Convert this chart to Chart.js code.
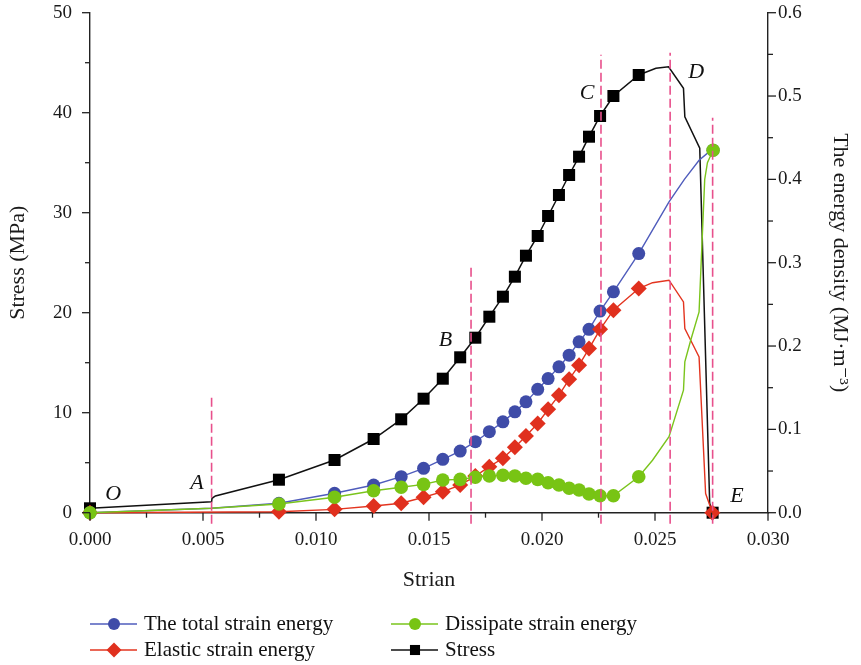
<!DOCTYPE html>
<html>
<head>
<meta charset="utf-8">
<script src="https://cdn.jsdelivr.net/npm/chart.js@4/dist/chart.umd.min.js"></script>
<style>
  body { margin: 0; background: #fff; }
  canvas { display: block; }
</style>
</head>
<body>
<canvas id="grafico" width="861" height="665"></canvas>
<script>
// pontos com marcador (mesma deformação para todas as séries)
const strainPts = [0, 0.00836, 0.01082, 0.01255, 0.01377, 0.01476, 0.01561, 0.01638, 0.01705, 0.01767, 0.01827,
    0.0188, 0.01929, 0.01981, 0.02027, 0.02075, 0.0212, 0.02164, 0.02208, 0.02257, 0.02316, 0.02428]

const stressPts = [0.44, 3.3, 5.27, 7.37, 9.34, 11.4, 13.4, 15.54, 17.5, 19.6, 21.6,
    23.6, 25.7, 27.67, 29.67, 31.77, 33.77, 35.6, 37.6, 39.67, 41.67, 43.77]
const totalPts = [0, 0.0113, 0.0233, 0.0332, 0.0432, 0.0533, 0.064, 0.074, 0.0852, 0.0972, 0.109,
    0.121, 0.133, 0.148, 0.161, 0.175, 0.189, 0.205, 0.22, 0.242, 0.265, 0.311]
const elasticPts = [0, 0.0012, 0.004, 0.008, 0.0113, 0.0185, 0.0252, 0.0332, 0.044, 0.0552, 0.0653,
    0.0785, 0.092, 0.107, 0.124, 0.141, 0.16, 0.177, 0.197, 0.22, 0.243, 0.269]
const dissipPts = [0, 0.0104, 0.0185, 0.0264, 0.0305, 0.034, 0.0392, 0.04, 0.0425, 0.044, 0.0449,
    0.044, 0.0413, 0.04, 0.036, 0.0332, 0.0293, 0.0272, 0.0224, 0.0204, 0.0204, 0.0432]

// trechos da linha sem marcador
const stressExtraX = [0.00538, 0.0054, 0.00555, 0.02504, 0.0256, 0.02626, 0.02632, 0.02698, 0.02742]
const stressExtraY = [1.1, 1.44, 1.67, 44.44, 44.6, 42.44, 39.6, 36.44, 0.94]
const totalExtraX = [0.00538, 0.02562, 0.0263, 0.02695, 0.02735]
const totalExtraY = [0.0053, 0.373, 0.4, 0.423, 0.432]
const elasticExtraX = [0.02489, 0.02562, 0.02626, 0.02632, 0.02658, 0.02695, 0.02724]
const elasticExtraY = [0.276, 0.279, 0.253, 0.221, 0.207, 0.187, 0.023]
const dissipExtraX = [0.00538, 0.02489, 0.02562, 0.02626, 0.02632, 0.02658, 0.02695, 0.0272, 0.02732]
const dissipExtraY = [0.0053, 0.063, 0.0912, 0.147, 0.181, 0.207, 0.241, 0.4, 0.42]

// ponto final (E), com marcador
const stressEnd = [0.02755, 0]
const totalEnd = [0.02757, 0.435]
const elasticEnd = [0.02754, 0]
const dissipEnd = [0.02757, 0.435]

// linhas tracejadas O-A-B-C-D-E
const guideX = [0.00538, 0.01686, 0.02261, 0.02567, 0.02755]
const guideTop = [11.6, 24.5, 45.8, 46, 39.5]
const guideBottom = -1.1

const labelNames = ['O', 'A', 'B', 'C', 'D', 'E']
const labelX = [0.00103, 0.00473, 0.01573, 0.022, 0.02682, 0.02863]
const labelY = [1.87, 2.97, 17.27, 41.97, 44.07, 1.67]

const serif = '"Liberation Serif", "DejaVu Serif", serif'

function montar(xs, ys, ex, ey, fim) {
    var pts = []
    xs.forEach((v, i) => pts.push({ x: v, y: ys[i], m: true }))
    ex.forEach((v, i) => pts.push({ x: v, y: ey[i], m: false }))
    pts.push({ x: fim[0], y: fim[1], m: true })
    pts.sort((a, b) => a.x - b.x)
    return pts
}

function raio(r) {
    return ctx => (ctx.raw && ctx.raw.m ? r : 0)
}

var datasets = []

guideX.forEach((gx, i) => {
    datasets.push({
        label: 'guia' + i,
        data: [{ x: gx, y: guideBottom }, { x: gx, y: guideTop[i] }],
        yAxisID: 'y',
        borderColor: '#e8508c',
        borderWidth: 1.6,
        borderDash: [9, 4],
        pointRadius: 0,
        clip: false
    })
})

datasets.push({
    label: 'Dissipate strain energy',
    data: montar(strainPts, dissipPts, dissipExtraX, dissipExtraY, dissipEnd),
    yAxisID: 'y2',
    borderColor: '#7ac41c',
    backgroundColor: '#78c414',
    borderWidth: 1.4,
    pointStyle: 'circle',
    pointRadius: raio(6.8),
    pointBorderWidth: 0,
    clip: false
})
datasets.push({
    label: 'Elastic strain energy',
    data: montar(strainPts, elasticPts, elasticExtraX, elasticExtraY, elasticEnd),
    yAxisID: 'y2',
    borderColor: '#e3341f',
    backgroundColor: '#e0301e',
    borderWidth: 1.4,
    pointStyle: 'rectRot',
    pointRadius: raio(8),
    pointBorderWidth: 0,
    clip: false
})
datasets.push({
    label: 'The total strain energy',
    data: montar(strainPts, totalPts, totalExtraX, totalExtraY, totalEnd),
    yAxisID: 'y2',
    borderColor: '#4f5cbc',
    backgroundColor: '#3f4ca8',
    borderWidth: 1.4,
    pointStyle: 'circle',
    pointRadius: raio(6.5),
    pointBorderWidth: 0,
    clip: false
})
datasets.push({
    label: 'Stress',
    data: montar(strainPts, stressPts, stressExtraX, stressExtraY, stressEnd),
    yAxisID: 'y',
    borderColor: '#111',
    backgroundColor: '#000',
    borderWidth: 1.5,
    pointStyle: 'rect',
    pointRadius: raio(8.5),
    pointBorderWidth: 0,
    clip: false
})

const extras = {
    id: 'extras',
    afterDraw(chart) {
        const ctx = chart.ctx
        const sx = chart.scales.x, sy = chart.scales.y, sy2 = chart.scales.y2
        const a = chart.chartArea
        ctx.save()
        ctx.strokeStyle = '#222'
        ctx.lineWidth = 1.3
        function traco(x1, y1, x2, y2) {
            ctx.beginPath(); ctx.moveTo(x1, y1); ctx.lineTo(x2, y2); ctx.stroke()
        }
        // marcas dos eixos (principais e secundárias)
        for (let i = 0; i <= 12; i++) {
            const px = sx.getPixelForValue(i * 0.0025)
            traco(px, a.bottom, px, a.bottom + (i % 2 ? 5 : 8))
        }
        for (let i = 0; i <= 10; i++) {
            const py = sy.getPixelForValue(i * 5)
            traco(a.left, py, a.left - (i % 2 ? 5 : 8), py)
        }
        for (let i = 0; i <= 12; i++) {
            const py = sy2.getPixelForValue(i * 0.05)
            traco(a.right, py, a.right + (i % 2 ? 5 : 8), py)
        }

        // letras O A B C D E
        ctx.fillStyle = '#111'
        ctx.font = 'italic 22px ' + serif
        ctx.textAlign = 'center'
        ctx.textBaseline = 'middle'
        labelNames.forEach((t, i) => {
            ctx.fillText(t, sx.getPixelForValue(labelX[i]), sy.getPixelForValue(labelY[i]))
        })

        // legenda
        const ordem = ['The total strain energy', 'Elastic strain energy', 'Dissipate strain energy', 'Stress']
        const colX = [90, 391]
        const rowY = [624, 650]
        ctx.font = '21px ' + serif
        ctx.textAlign = 'left'
        ordem.forEach((nome, k) => {
            const ds = chart.data.datasets.find(d => d.label === nome)
            const x0 = colX[Math.floor(k / 2)]
            const y0 = rowY[k % 2]
            ctx.strokeStyle = ds.borderColor
            ctx.lineWidth = 1.6
            traco(x0, y0, x0 + 47, y0)
            const r = ds.pointStyle === 'rect' ? 7 : (ds.pointStyle === 'rectRot' ? 7.5 : 6)
            ctx.fillStyle = ds.backgroundColor
            ctx.beginPath()
            if (ds.pointStyle === 'circle') ctx.arc(x0 + 24, y0, r, 0, Math.PI * 2)
            else if (ds.pointStyle === 'rect') ctx.rect(x0 + 24 - r * 0.72, y0 - r * 0.72, r * 1.44, r * 1.44)
            else { ctx.moveTo(x0 + 24, y0 - r); ctx.lineTo(x0 + 24 + r, y0); ctx.lineTo(x0 + 24, y0 + r); ctx.lineTo(x0 + 24 - r, y0) }
            ctx.closePath()
            ctx.fill()
            ctx.fillStyle = '#111'
            ctx.fillText(nome, x0 + 54, y0)
        })
        ctx.restore()
    }
}

const fonteTick = { family: serif, size: 19 }
const fonteTitulo = { family: serif, size: 22 }

function fixarVertical(largura) {
    return s => {
        s.width = largura
        s.paddingTop = 0
        s.paddingBottom = 0
    }
}

new Chart(document.getElementById('grafico'), {
    type: 'line',
    data: { datasets: datasets },
    plugins: [extras],
    options: {
        responsive: false,
        animation: false,
        devicePixelRatio: 1,
        layout: { padding: { top: 12.7, left: 0, right: 0, bottom: 0 } },
        plugins: { legend: { display: false }, tooltip: { enabled: false } },
        elements: { line: { tension: 0 } },
        scales: {
            x: {
                type: 'linear',
                min: 0,
                max: 0.03,
                afterFit: s => { s.height = 152.3; s.paddingLeft = 0; s.paddingRight = 0 },
                grid: { display: false, drawTicks: false },
                border: { display: true, color: '#222', width: 1.4 },
                ticks: {
                    stepSize: 0.005,
                    autoSkip: false,
                    maxRotation: 0,
                    padding: 16,
                    color: '#1a1a1a',
                    font: fonteTick,
                    callback: v => v.toFixed(3)
                },
                title: { display: true, text: 'Strian', color: '#1a1a1a', font: fonteTitulo, padding: { top: 0, bottom: 72 } }
            },
            y: {
                position: 'left',
                min: 0,
                max: 50,
                afterFit: fixarVertical(90),
                grid: { display: false, drawTicks: false },
                border: { display: true, color: '#222', width: 1.4 },
                ticks: { stepSize: 10, padding: 18, color: '#1a1a1a', font: fonteTick },
                title: { display: true, text: 'Stress (MPa)', color: '#1a1a1a', font: fonteTitulo, padding: { top: 5, bottom: 0 } }
            },
            y2: {
                position: 'right',
                min: 0,
                max: 0.6,
                afterFit: fixarVertical(93),
                grid: { display: false, drawTicks: false },
                border: { display: true, color: '#222', width: 1.4 },
                ticks: { stepSize: 0.1, padding: 10, color: '#1a1a1a', font: fonteTick, callback: v => v.toFixed(1) },
                title: { display: true, text: 'The energy density (MJ·m⁻³)', color: '#1a1a1a', font: fonteTitulo, padding: { top: 8, bottom: 0 } }
            }
        }
    }
})
</script>
</body>
</html>
